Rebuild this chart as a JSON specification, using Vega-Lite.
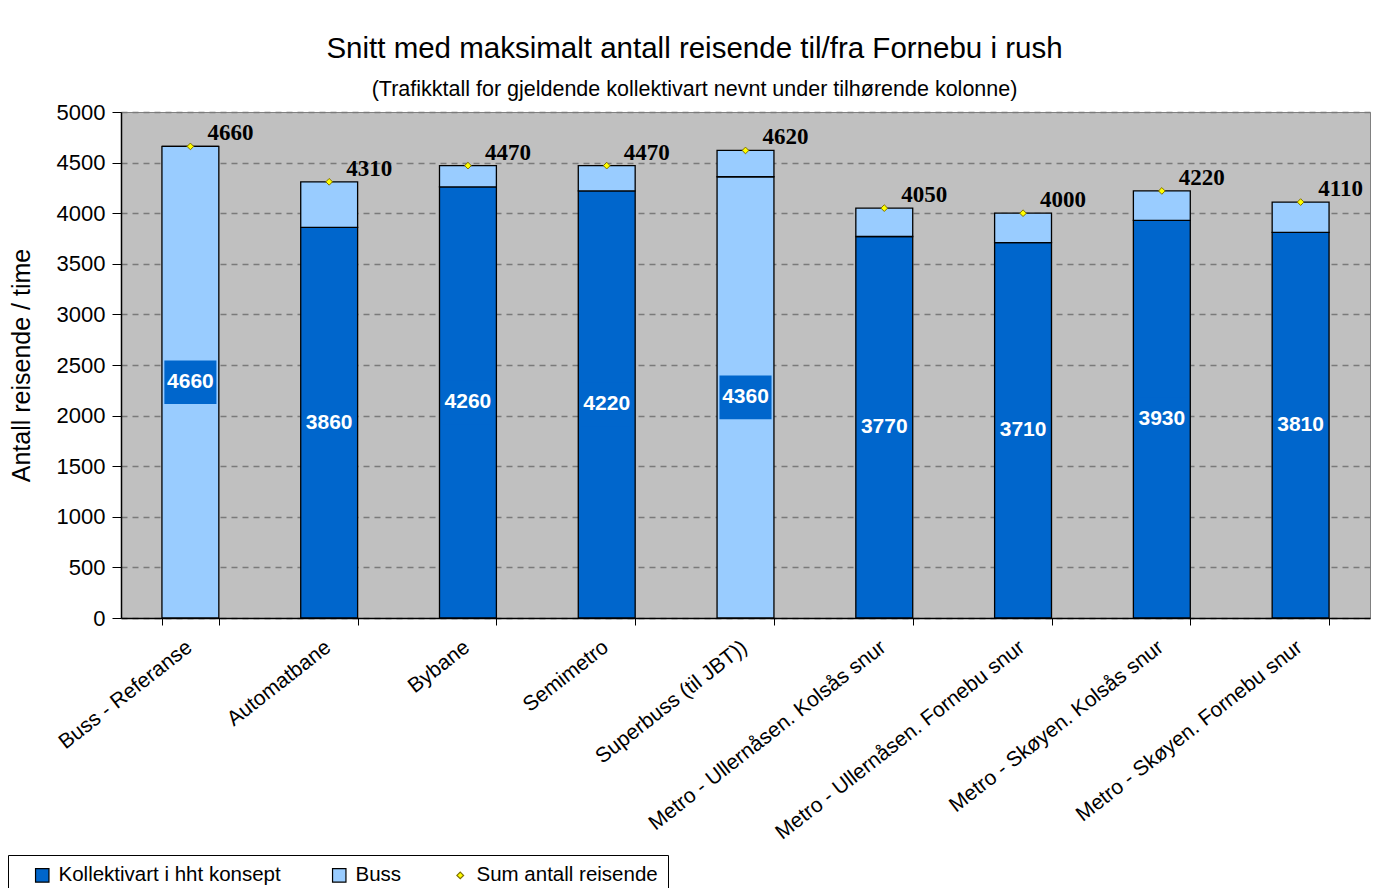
{
  "$schema": "https://vega.github.io/schema/vega-lite/v6.json",
  "width": 1249,
  "height": 506,
  "autosize": {"type": "none"},
  "padding": {"left": 121, "top": 112, "right": 17, "bottom": 270},
  "background": "white",
  "title": {
    "text": "Snitt med maksimalt antall reisende til/fra Fornebu i rush",
    "subtitle": "(Trafikktall for gjeldende kollektivart nevnt under tilhørende kolonne)",
    "anchor": "middle",
    "dx": -51,
    "offset": 0,
    "font": "Liberation Sans",
    "fontSize": 29.5,
    "fontWeight": "normal",
    "color": "#000000",
    "subtitleFont": "Liberation Sans",
    "subtitleFontSize": 21.5,
    "subtitleColor": "#000000",
    "subtitlePadding": 14
  },
  "data": {
    "values": [
      {"kategori": "Buss - Referanse", "serie": "Buss", "kollektiv": 4660, "sum": 4660},
      {"kategori": "Automatbane", "serie": "Kollektivart i hht konsept", "kollektiv": 3860, "sum": 4310},
      {"kategori": "Bybane", "serie": "Kollektivart i hht konsept", "kollektiv": 4260, "sum": 4470},
      {"kategori": "Semimetro", "serie": "Kollektivart i hht konsept", "kollektiv": 4220, "sum": 4470},
      {"kategori": "Superbuss (til JBT))", "serie": "Buss", "kollektiv": 4360, "sum": 4620},
      {"kategori": "Metro - Ullernåsen. Kolsås snur", "serie": "Kollektivart i hht konsept", "kollektiv": 3770, "sum": 4050},
      {"kategori": "Metro - Ullernåsen. Fornebu snur", "serie": "Kollektivart i hht konsept", "kollektiv": 3710, "sum": 4000},
      {"kategori": "Metro - Skøyen. Kolsås snur", "serie": "Kollektivart i hht konsept", "kollektiv": 3930, "sum": 4220},
      {"kategori": "Metro - Skøyen. Fornebu snur", "serie": "Kollektivart i hht konsept", "kollektiv": 3810, "sum": 4110}
    ]
  },
  "transform": [{"calculate": "datum.kollektiv / 2", "as": "midt"}],
  "config": {
    "view": {"fill": "#C0C0C0", "stroke": "#808080", "strokeWidth": 1},
    "axis": {"labelColor": "#000000", "titleColor": "#000000", "domainColor": "#000000", "tickColor": "#000000"}
  },
  "encoding": {
    "x": {
      "field": "kategori",
      "type": "nominal",
      "sort": null,
      "scale": {"paddingInner": 0.59, "paddingOuter": 0.295},
      "axis": {
        "title": null,
        "labelAngle": -38,
        "labelAlign": "right",
        "labelBaseline": "top",
        "labelFont": "Liberation Sans",
        "labelFontSize": 21,
        "labelPadding": 11,
        "labelOffset": -8,
        "tickBand": "extent",
        "tickSize": 7,
        "domainWidth": 1.5,
        "labelLimit": 400
      }
    }
  },
  "layer": [
    {
      "mark": {"type": "bar", "stroke": "#000000", "strokeWidth": 1.3},
      "encoding": {
        "y": {
          "field": "kollektiv",
          "type": "quantitative",
          "scale": {"domain": [0, 5000], "nice": false},
          "axis": {
            "title": "Antall reisende / time",
            "titleFont": "Liberation Sans",
            "titleFontSize": 25,
            "titleFontWeight": "normal",
            "titlePadding": 22,
            "values": [0, 500, 1000, 1500, 2000, 2500, 3000, 3500, 4000, 4500, 5000],
            "format": "d",
            "labelFont": "Liberation Sans",
            "labelFontSize": 22,
            "labelPadding": 7,
            "tickSize": 9,
            "domainWidth": 1.5,
            "grid": true,
            "gridColor": "#7a7a7a",
            "gridDash": [6, 5],
            "gridWidth": 1.3
          }
        },
        "color": {
          "field": "serie",
          "type": "nominal",
          "scale": {
            "domain": ["Kollektivart i hht konsept", "Buss", "Sum antall reisende"],
            "range": ["#0066CC", "#99CCFF", "#FFFF00"]
          },
          "legend": {
            "title": null,
            "orient": "none",
            "legendX": -113,
            "legendY": 743,
            "direction": "horizontal",
            "strokeColor": "#000000",
            "fillColor": "#FFFFFF",
            "padding": 10,
            "columnPadding": 34,
            "labelFont": "Liberation Sans",
            "labelFontSize": 20.5,
            "labelColor": "#000000",
            "labelLimit": 400,
            "symbolStrokeColor": "#000000",
            "symbolStrokeWidth": 1.2,
            "symbolSize": 180,
            "symbolOffset": 14,
            "labelOffset": 6,
            "encode": {
              "symbols": {
                "update": {
                  "shape": {"signal": "datum.value === 'Sum antall reisende' ? 'diamond' : 'square'"},
                  "size": {"signal": "datum.value === 'Sum antall reisende' ? 45 : 180"},
                  "stroke": {"signal": "datum.value === 'Sum antall reisende' ? '#807000' : '#000000'"}
                }
              }
            }
          }
        }
      }
    },
    {
      "mark": {"type": "bar", "stroke": "#000000", "strokeWidth": 1.3},
      "encoding": {
        "y": {"field": "kollektiv", "type": "quantitative"},
        "y2": {"field": "sum"},
        "color": {"datum": "Buss"}
      }
    },
    {
      "mark": {
        "type": "point",
        "shape": "M-1.1,-0.92L1.1,-0.92L1.1,0.92L-1.1,0.92Z",
        "size": 2240,
        "filled": true,
        "opacity": 1,
        "fill": "#0066CC",
        "strokeWidth": 0
      },
      "encoding": {"y": {"field": "midt", "type": "quantitative"}}
    },
    {
      "mark": {
        "type": "text",
        "color": "#FFFFFF",
        "font": "Liberation Sans",
        "fontSize": 21,
        "fontWeight": "bold",
        "align": "center",
        "baseline": "middle"
      },
      "encoding": {
        "y": {"field": "midt", "type": "quantitative"},
        "text": {"field": "kollektiv", "type": "quantitative", "format": "d"}
      }
    },
    {
      "mark": {"type": "point", "shape": "diamond", "filled": true, "size": 45, "opacity": 1, "stroke": "#807000", "strokeWidth": 1},
      "encoding": {
        "y": {"field": "sum", "type": "quantitative"},
        "color": {"datum": "Sum antall reisende"}
      }
    },
    {
      "mark": {
        "type": "text",
        "color": "#000000",
        "font": "Liberation Serif",
        "fontSize": 23,
        "fontWeight": "bold",
        "align": "center",
        "baseline": "middle",
        "dx": 40,
        "dy": -13
      },
      "encoding": {
        "y": {"field": "sum", "type": "quantitative"},
        "text": {"field": "sum", "type": "quantitative", "format": "d"}
      }
    }
  ]
}
